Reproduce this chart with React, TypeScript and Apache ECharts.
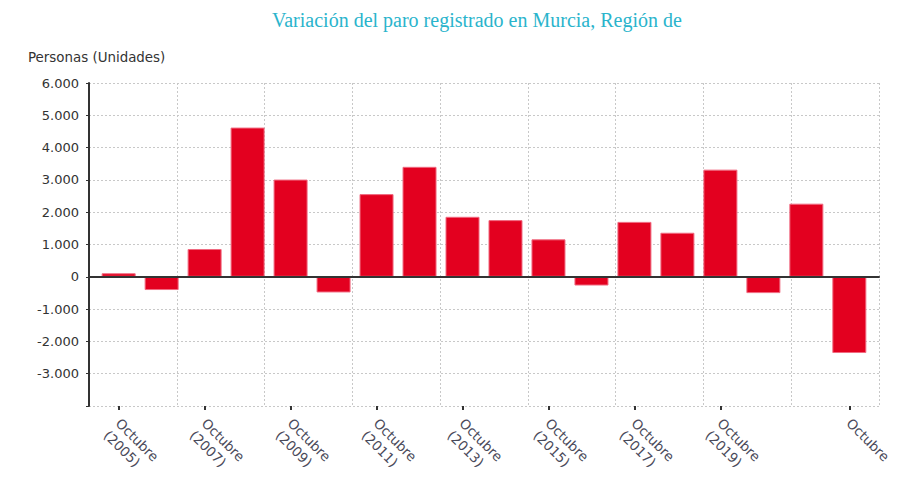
import React, { useEffect, useRef } from "react";
import * as echarts from "echarts";

const years = ["2005","2006","2007","2008","2009","2010","2011","2012","2013","2014","2015","2016","2017","2018","2019","2020","2021","2022"];
const values = [110, -410, 860, 4620, 3010, -485, 2560, 3405, 1858, 1755, 1160, -270, 1700, 1364, 3318, -505, 2264, -2360];
const tickIndices = [0, 2, 4, 6, 8, 10, 12, 14, 17];
const tickLabels = ["Octubre\n(2005)", "Octubre\n(2007)", "Octubre\n(2009)", "Octubre\n(2011)", "Octubre\n(2013)", "Octubre\n(2015)", "Octubre\n(2017)", "Octubre\n(2019)", "Octubre"];

const fmt = (v: number) => {
  const s = Math.abs(v).toString().replace(/\B(?=(\d{3})+(?!\d))/g, ".");
  return (v < 0 ? "-" : "") + s;
};

export default function App() {
  const ref = useRef<HTMLDivElement>(null);
  useEffect(() => {
    if (!ref.current) return;
    const chart = echarts.init(ref.current, undefined, { renderer: "svg" });
    const font = "'DejaVu Sans', sans-serif";
    chart.setOption({
      animation: false,
      backgroundColor: "#fff",
      title: {
        text: "Variación del paro registrado en Murcia, Región de",
        left: 267,
        top: 5,
        textStyle: { fontFamily: "'Liberation Serif', serif", fontSize: 20, fontWeight: "normal", color: "#2ab4cc" },
      },
      graphic: [
        { type: "text", left: 28, top: 51, style: { text: "Personas (Unidades)", fontFamily: font, fontSize: 13.4, fill: "#333" } },
      ],
      grid: { left: 89, right: 29, top: 83, bottom: 81 },
      xAxis: [
        {
          type: "value", min: 0, max: 9, interval: 1, position: "bottom",
          axisLine: { show: true, lineStyle: { color: "#333", width: 2 } },
          axisTick: { show: false }, axisLabel: { show: false },
          splitLine: { show: true, lineStyle: { color: "#c8c8c8", type: [2, 2], width: 1 } },
        },
        {
          type: "value", min: -0.69, max: 17.69, position: "bottom",
          axisLine: { show: false },
          splitLine: { show: false },
          axisTick: { show: true, customValues: tickIndices, length: 4, lineStyle: { color: "#333", width: 2 } },
          axisLabel: {
            show: true, customValues: tickIndices, rotate: -45, margin: 3,
            align: "left", verticalAlign: "top", padding: [0, 0, 0, 8],
            fontFamily: font, fontSize: 13.5, color: "#4a4a5a", lineHeight: 17,
            formatter: (v: number) => {
              const k = tickIndices.indexOf(Math.round(v));
              return k >= 0 ? tickLabels[k] : "";
            },
          },
        },
      ],
      yAxis: {
        type: "value", min: -4000, max: 6000, interval: 1000,
        axisLine: { show: true, lineStyle: { color: "#333", width: 2 } },
        axisTick: { show: true, length: 3, lineStyle: { color: "#333" } },
        axisLabel: {
          fontFamily: font, fontSize: 13, color: "#333", margin: 10,
          formatter: (v: number) => (v === -4000 ? "" : fmt(v)),
        },
        splitLine: { show: true, lineStyle: { color: "#c8c8c8", type: [2, 2], width: 1 } },
      },
      series: [
        {
          type: "bar",
          xAxisIndex: 1,
          barWidth: 34,
          data: values.map((v, i) => [i, v]),
          itemStyle: { color: "#e3001f", borderColor: "#f06a80", borderWidth: 1 },
          markLine: {
            silent: true, symbol: "none", label: { show: false },
            lineStyle: { color: "#333", width: 2, type: "solid" },
            data: [{ yAxis: 0 }],
          },
        },
      ],
    });
    return () => chart.dispose();
  }, []);
  return <div ref={ref} style={{ position: "fixed", left: 0, top: 0, width: 908, height: 487 }} />;
}
